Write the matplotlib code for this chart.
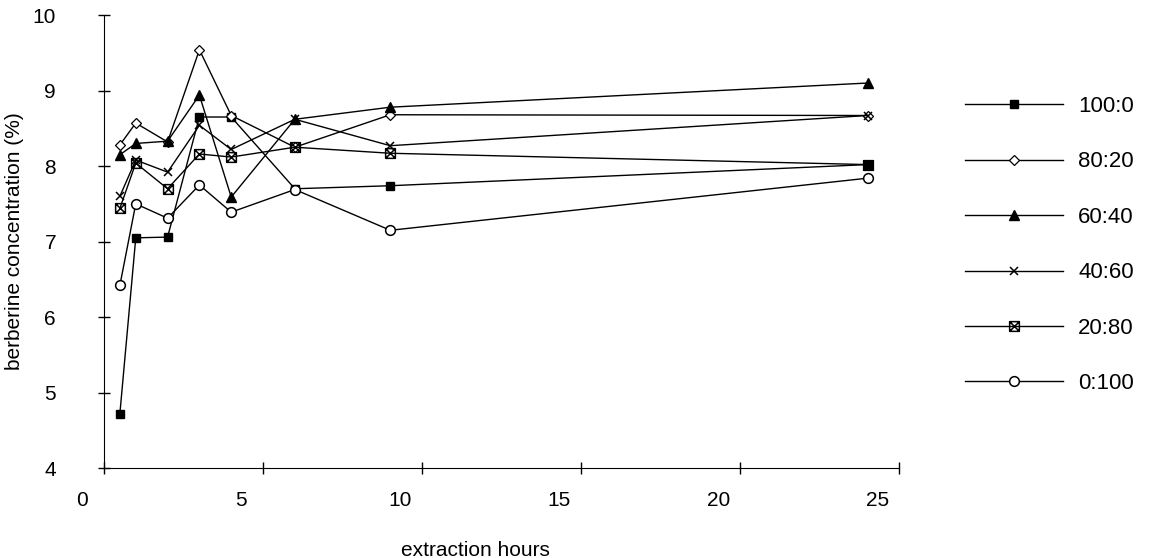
import matplotlib
matplotlib.use('Agg')
import matplotlib.pyplot as plt
import numpy as np
from matplotlib.path import Path
from matplotlib.transforms import ScaledTranslation

plt.rcParams['font.family'] = ['Liberation Sans', 'DejaVu Sans']

hours = [0.5, 1, 2, 3, 4, 6, 9, 24]
r100_0 = [4.72, 7.05, 7.06, 8.65, 8.65, 7.70, 7.74, 8.02]
r80_20 = [8.28, 8.57, 8.32, 9.54, 8.67, 8.25, 8.68, 8.67]
r60_40 = [8.15, 8.30, 8.33, 8.94, 7.59, 8.62, 8.78, 9.10]
r40_60 = [7.60, 8.08, 7.92, 8.54, 8.22, 8.62, 8.27, 8.67]
r20_80 = [7.44, 8.04, 7.70, 8.16, 8.12, 8.25, 8.17, 8.02]
r0_100 = [6.42, 7.50, 7.31, 7.75, 7.39, 7.69, 7.15, 7.84]
labels = ['100:0', '80:20', '60:40', '40:60', '20:80', '0:100']

xticks = [0, 5, 10, 15, 20, 25]
yticks = [4, 5, 6, 7, 8, 9, 10]

# square with a cross inside, stands in for the hatched box
boxx = Path([(-1, -1), (1, -1), (1, 1), (-1, 1), (-1, -1), (-1, -1), (1, 1), (-1, 1), (1, -1)],
            [Path.MOVETO, Path.LINETO, Path.LINETO, Path.LINETO, Path.LINETO,
             Path.MOVETO, Path.LINETO, Path.MOVETO, Path.LINETO])

styles = [
    dict(marker='s', ms=6, mfc='k', mec='k'),
    dict(marker='D', ms=5, mfc='white', mec='k', mew=0.9),
    dict(marker='^', ms=7, mfc='k', mec='k'),
    dict(marker='x', ms=6, mec='k', mew=1.1),
    dict(marker=boxx, ms=7, mfc='none', mec='k', mew=1.1),
    dict(marker='o', ms=7, mfc='white', mec='k', mew=1.1),
]
series = [r100_0, r80_20, r60_40, r40_60, r20_80, r0_100]

fig = plt.figure(figsize=(11.68, 5.58), dpi=100)
ax = fig.add_axes([0.089, 0.161, 0.681, 0.812])

for vals, lab, st in zip(series, labels, styles):
    ax.plot(hours, vals, color='k', lw=1.0, label=lab, **st)

ax.set_xlim(0, 25)
ax.set_ylim(4, 10)
ax.set_xticks(xticks)
ax.set_yticks(yticks)
ax.spines['top'].set_visible(False)
ax.spines['right'].set_visible(False)
ax.tick_params(direction='inout', length=9, width=1, labelsize=15)
ax.tick_params(axis='y', pad=30)
ax.tick_params(axis='x', pad=12)

for lbl in ax.get_xticklabels():
    lbl.set_transform(lbl.get_transform() + ScaledTranslation(-0.22, 0, fig.dpi_scale_trans))

ax.set_xlabel('extraction hours', fontsize=15)
ax.set_ylabel('berberine concentration (%)', fontsize=15)
ax.xaxis.set_label_coords(0.467, -0.16)
ax.yaxis.set_label_coords(-0.1, 0.5)

ax.legend(loc='upper left', bbox_to_anchor=(0.826, 0.828), bbox_transform=fig.transFigure,
          frameon=False, fontsize=16, handlelength=4.4, handletextpad=0.7,
          labelspacing=1.55, borderpad=0, borderaxespad=0)

fig.savefig('out.png', dpi=100)
